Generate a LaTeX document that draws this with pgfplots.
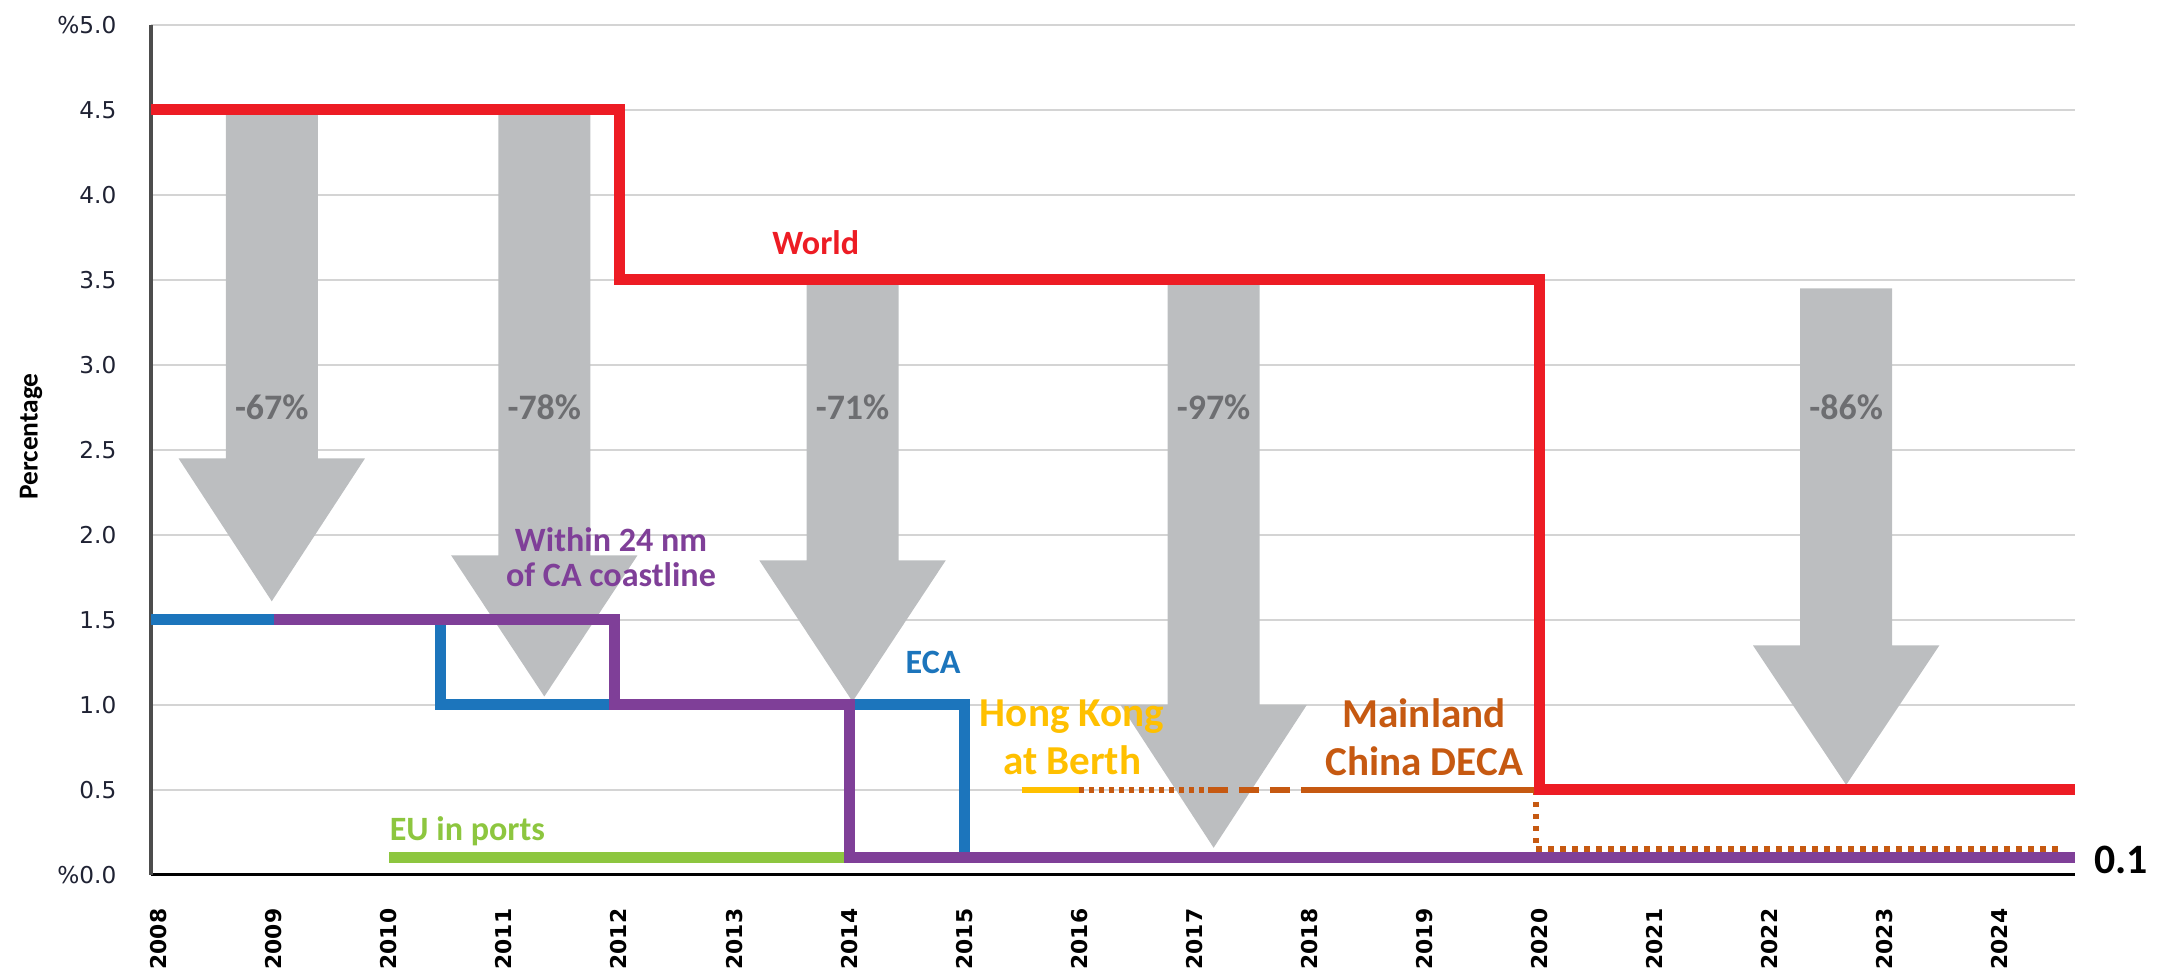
\documentclass[border=0pt]{standalone}
\usepackage{pgfplots}
\pgfplotsset{compat=1.18}
\usepackage{fontspec}
\setmainfont{Carlito}
\newfontfamily\tickfont{DejaVu Sans}

\definecolor{worldred}{HTML}{ED1C24}
\definecolor{ecablue}{HTML}{1C75BC}
\definecolor{capurple}{HTML}{7F3F98}
\definecolor{eugreen}{HTML}{8DC63F}
\definecolor{hkyellow}{HTML}{FFC000}
\definecolor{decaorange}{HTML}{C65911}
\definecolor{arrowgray}{HTML}{BCBEC0}
\definecolor{pctgray}{HTML}{6D6E71}
\definecolor{gridgray}{HTML}{D4D4D4}
\definecolor{axisgray}{HTML}{4D4D4D}
\definecolor{tickcol}{HTML}{1F2233}

\begin{document}
\begin{tikzpicture}
\path[use as bounding box] (0,0) rectangle (216.1mm,97.6mm);
\begin{axis}[
  at={(15.1mm,10.1mm)}, anchor=south west,
  scale only axis, width=192.4mm, height=85mm,
  xmin=2007.93, xmax=2024.66, ymin=0, ymax=5,
  axis lines*=left,
  x axis line style={line width=0.3mm, black},
  y axis line style={line width=0.35mm, axisgray},
  ymajorgrids, grid style={line width=0.25mm, gridgray},
  major tick length=0pt,
  xtick={2008,2009,2010,2011,2012,2013,2014,2015,2016,2017,2018,2019,2020,2021,2022,2023,2024},
  xticklabels={2008,2009,2010,2011,2012,2013,2014,2015,2016,2017,2018,2019,2020,2021,2022,2023,2024},
  ytick={0,0.5,1,1.5,2,2.5,3,3.5,4,4.5,5},
  yticklabels={\%0.0,0.5,1.0,1.5,2.0,2.5,3.0,3.5,4.0,4.5,\%5.0},
  xticklabel style={rotate=90, anchor=east, inner sep=0pt, text=black,
    font=\tickfont\bfseries\fontsize{6.2}{7}\selectfont},
  xticklabel shift=3.3mm,
  yticklabel style={anchor=east, inner sep=0pt, text=tickcol,
    font=\tickfont\fontsize{6.6}{7}\selectfont},
  yticklabel shift=3.4mm,
  ylabel={Percentage},
  ylabel style={at={(axis description cs:-0.0624,0.516)}, anchor=center,
    font=\bfseries\fontsize{7.8}{8}\selectfont},
  clip=false,
  no markers,
  every axis plot/.append style={line join=miter, line cap=butt},
]

% reduction arrows
\addplot[fill=arrowgray, draw=none] coordinates {(2008.58,4.5)(2009.38,4.5)(2009.38,2.45)(2009.79,2.45)(2008.98,1.61)(2008.17,2.45)(2008.58,2.45)};
\addplot[fill=arrowgray, draw=none] coordinates {(2010.95,4.5)(2011.75,4.5)(2011.75,1.88)(2012.16,1.88)(2011.35,1.05)(2010.54,1.88)(2010.95,1.88)};
\addplot[fill=arrowgray, draw=none] coordinates {(2013.63,3.5)(2014.43,3.5)(2014.43,1.85)(2014.84,1.85)(2014.03,1.02)(2013.22,1.85)(2013.63,1.85)};
\addplot[fill=arrowgray, draw=none] coordinates {(2016.77,3.5)(2017.57,3.5)(2017.57,1.0)(2017.98,1.0)(2017.17,0.16)(2016.36,1.0)(2016.77,1.0)};
\addplot[fill=arrowgray, draw=none] coordinates {(2022.27,3.45)(2023.07,3.45)(2023.07,1.35)(2023.48,1.35)(2022.67,0.53)(2021.86,1.35)(2022.27,1.35)};

% EU in ports
\addplot[eugreen, line width=1.1mm] coordinates {(2010,0.1)(2014,0.1)};
% ECA
\addplot[ecablue, line width=1.1mm] coordinates {(2007.93,1.5)(2010.45,1.5)(2010.45,1.0)(2015,1.0)(2015,0.1)(2024.66,0.1)};
% Within 24 nm of CA coastline
\addplot[capurple, line width=1.1mm] coordinates {(2009,1.5)(2011.96,1.5)(2011.96,1.0)(2014,1.0)(2014,0.1)(2024.66,0.1)};
% Hong Kong at berth
\addplot[hkyellow, line width=0.6mm] coordinates {(2015.5,0.5)(2016.0,0.5)};
% Mainland China DECA phases
\addplot[decaorange, line width=0.6mm, dash pattern=on 0.45mm off 0.55mm] coordinates {(2016.0,0.5)(2017.12,0.5)};
\addplot[decaorange, line width=0.6mm, dash pattern=on 2mm off 1.1mm] coordinates {(2017.12,0.5)(2018.05,0.5)};
\addplot[decaorange, line width=0.6mm] coordinates {(2018.05,0.5)(2019.97,0.5)};
\addplot[decaorange, line width=0.6mm, dash pattern=on 0.55mm off 0.65mm] coordinates {(2019.97,0.5)(2019.97,0.15)(2024.53,0.15)};
% World
\addplot[worldred, line width=1.1mm] coordinates {(2007.93,4.5)(2012,4.5)(2012,3.5)(2020,3.5)(2020,0.5)(2024.66,0.5)};

% labels
\node[text=worldred, font=\bfseries\fontsize{9.7}{10}\selectfont] at (axis cs:2013.71,3.72) {World};
\node[text=capurple, align=center, font=\bfseries\fontsize{9.7}{9.95}\selectfont] at (axis cs:2011.93,1.87) {Within 24 nm\\of CA coastline};
\node[text=ecablue, font=\bfseries\fontsize{9.7}{10}\selectfont] at (axis cs:2014.73,1.25) {ECA};
\node[text=eugreen, anchor=west, inner sep=0pt, font=\bfseries\fontsize{9.7}{10}\selectfont] at (axis cs:2010.0,0.255) {EU in ports};
\node[text=hkyellow, align=center, font=\bfseries\fontsize{11.7}{13.7}\selectfont] at (axis cs:2015.94,0.81) {Hong Kong\\at Berth};
\node[text=decaorange, align=center, font=\bfseries\fontsize{11.7}{13.7}\selectfont] at (axis cs:2019.0,0.81) {Mainland\\China DECA};

\node[text=pctgray, font=\bfseries\fontsize{10.2}{11}\selectfont] at (axis cs:2008.98,2.75) {-67\%};
\node[text=pctgray, font=\bfseries\fontsize{10.2}{11}\selectfont] at (axis cs:2011.35,2.75) {-78\%};
\node[text=pctgray, font=\bfseries\fontsize{10.2}{11}\selectfont] at (axis cs:2014.03,2.75) {-71\%};
\node[text=pctgray, font=\bfseries\fontsize{10.2}{11}\selectfont] at (axis cs:2017.17,2.75) {-97\%};
\node[text=pctgray, font=\bfseries\fontsize{10.2}{11}\selectfont] at (axis cs:2022.67,2.75) {-86\%};

\node[text=black, font=\bfseries\fontsize{11.9}{12}\selectfont] at (axis cs:2025.06,0.09) {0.1};
\end{axis}
\end{tikzpicture}
\end{document}
